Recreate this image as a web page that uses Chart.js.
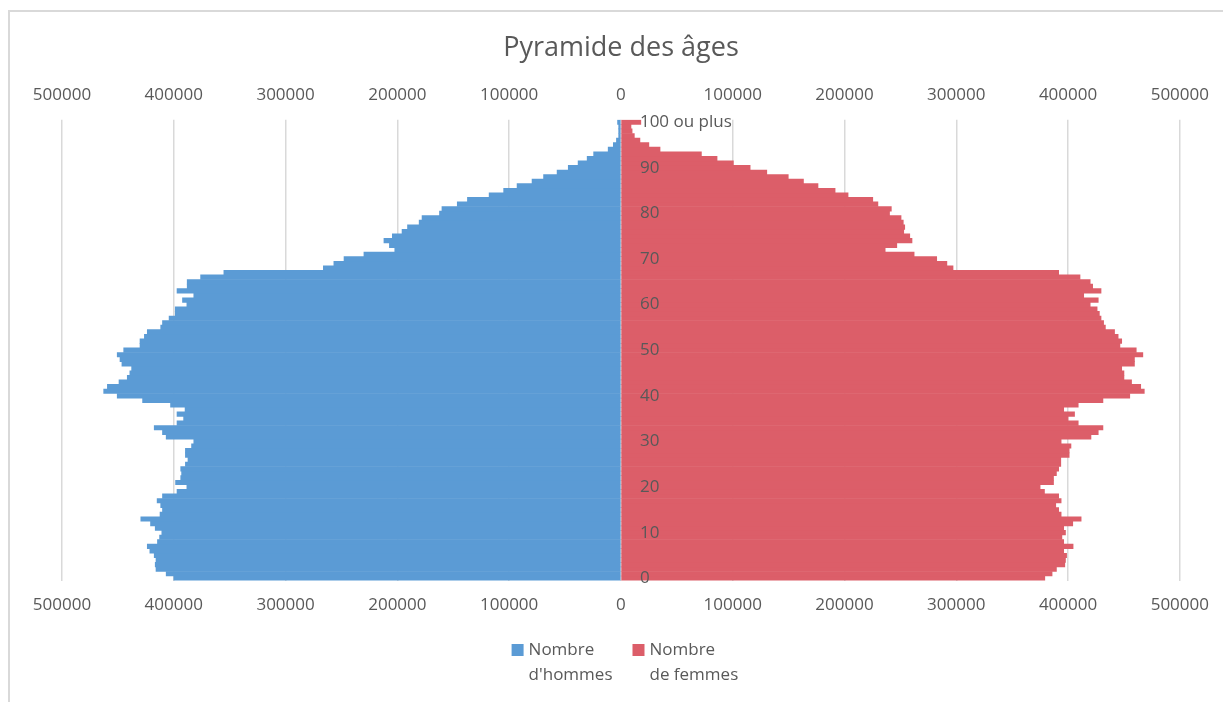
<!DOCTYPE html>
<html>
<head>
<meta charset="utf-8">
<script src="https://cdn.jsdelivr.net/npm/chart.js@4/dist/chart.umd.min.js"></script>
<style>
  html, body { margin: 0; padding: 0; background: #ffffff; }
  #wrap { position: relative; width: 1223px; height: 702px; overflow: hidden; }
  #frame { position: absolute; left: 8px; top: 10px; width: 1400px; height: 900px;
           border-left: 2px solid #d9d9d9; border-top: 2px solid #d9d9d9; }
  canvas { position: absolute; left: 0; top: 0; }
</style>
</head>
<body>
<div id="wrap">
  <div id="frame"></div>
  <canvas id="c" width="1223" height="702"></canvas>
</div>
<script>
// Age categories (bottom to top)
const ages = ["0","1","2","3","4","5","6","7","8","9",
  "10","11","12","13","14","15","16","17","18","19",
  "20","21","22","23","24","25","26","27","28","29",
  "30","31","32","33","34","35","36","37","38","39",
  "40","41","42","43","44","45","46","47","48","49",
  "50","51","52","53","54","55","56","57","58","59",
  "60","61","62","63","64","65","66","67","68","69",
  "70","71","72","73","74","75","76","77","78","79",
  "80","81","82","83","84","85","86","87","88","89",
  "90","91","92","93","94","95","96","97","98","99",
  "100 ou plus"];

// Nombre d'hommes (by age, 0 .. 100 ou plus)
const hommes = [400000, 406800, 415900, 416600, 415900, 417500, 421400, 423700, 414600, 412700,
  410700, 416600, 420800, 429500, 412300, 410100, 411700, 414900, 410100, 397100,
  388300, 398400, 393800, 393000, 393800, 389600, 387300, 389600, 389600, 384100,
  382100, 406800, 410100, 417500, 397100, 391200, 397100, 389900, 402900, 427900,
  450600, 462700, 459400, 449000, 441600, 439300, 437700, 446400, 448100, 450600,
  444800, 430200, 430200, 426300, 423700, 411700, 410100, 404200, 398700, 398700,
  388300, 392200, 382100, 397100, 388000, 388000, 376000, 355200, 266200, 256800,
  247700, 229900, 202300, 207100, 212000, 204500, 195800, 190900, 180500, 177900,
  162300, 160100, 146400, 137300, 117900, 104900, 92900, 79500, 69200, 57100,
  47100, 38300, 30200, 24400, 11400, 6800, 4000, 2000, 2000, 2000,
  3000];

// Nombre de femmes (by age, 0 .. 100 ou plus)
const femmes = [379200, 385700, 389600, 397100, 397700, 398700, 396100, 404500, 396100, 394500,
  397700, 396100, 404200, 411700, 393800, 391600, 389000, 393800, 391600, 378900,
  375000, 387000, 387000, 389600, 391600, 393500, 393500, 401000, 401000, 402600,
  393800, 420500, 427000, 431200, 409100, 400000, 405800, 396100, 409100, 431200,
  455200, 468200, 465000, 456800, 450000, 450000, 448000, 459400, 459400, 466900,
  461000, 446400, 448000, 444800, 441600, 433400, 431800, 429500, 428000, 426000,
  419800, 427000, 414000, 429500, 422000, 419800, 410700, 391600, 297100, 291600,
  282500, 262300, 236400, 246800, 260400, 258400, 253000, 253900, 252600, 250600,
  240300, 241900, 229900, 225300, 203200, 191600, 176300, 163300, 149700, 130500,
  115600, 100600, 86000, 72000, 35000, 25000, 17000, 12000, 10000, 9000,
  17800];

// Axis ticks (absolute values shown on both sides)
const xMin = -500000, xMax = 500000, xStep = 100000;
const shownAgeLabels = ["0","10","20","30","40","50","60","70","80","90","100 ou plus"];
const legendLines = [["Nombre", "d'hommes"], ["Nombre", "de femmes"]];

const FONT = '"Open Sans", "DejaVu Sans", sans-serif';
const TXT = '#595959';
const BLUE = '#5B9BD5';
const RED = '#DC5E69';

const ageLabelPlugin = {
  id: 'ageLabels',
  afterDatasetsDraw(chart) {
    const ys = chart.scales.y, xs = chart.scales.x, ctx = chart.ctx;
    ctx.save();
    ctx.font = '17px ' + FONT;
    ctx.fillStyle = TXT;
    ctx.textAlign = 'left';
    ctx.textBaseline = 'middle';
    ages.forEach((lab, i) => {
      if (shownAgeLabels.includes(lab)) {
        ctx.fillText(lab, xs.getPixelForValue(0) + 19, ys.getPixelForValue(i));
      }
    });
    ctx.restore();
  }
};

// Two-line legend under the bottom axis, colours taken from the datasets
const legendPlugin = {
  id: 'twoLineLegend',
  afterDraw(chart) {
    const ctx = chart.ctx, ca = chart.chartArea;
    ctx.save();
    ctx.font = '17px ' + FONT;
    const box = 12, gap = 5, spacing = 20, lineH = 25;
    const widths = legendLines.map(lines => box + gap + Math.max(...lines.map(t => ctx.measureText(t).width)));
    const total = widths.reduce((a, b) => a + b, 0) + spacing * (widths.length - 1);
    let x = (ca.left + ca.right) / 2 + 4 - total / 2;
    const y0 = 650;
    chart.data.datasets.forEach((ds, i) => {
      ctx.fillStyle = ds.backgroundColor;
      ctx.fillRect(x, y0 - box / 2, box, box);
      ctx.fillStyle = TXT;
      ctx.textAlign = 'left';
      ctx.textBaseline = 'middle';
      legendLines[i].forEach((t, k) => ctx.fillText(t, x + box + gap, y0 + k * lineH));
      x += widths[i] + spacing;
    });
    ctx.restore();
  }
};

const tickFont = { family: FONT, size: 17 };

new Chart(document.getElementById('c'), {
  type: 'bar',
  data: {
    labels: ages,
    datasets: [
      { label: "Nombre d'hommes", data: hommes.map(v => -v), backgroundColor: BLUE,
        barPercentage: 1, categoryPercentage: 1, borderWidth: 0 },
      { label: "Nombre de femmes", data: femmes, backgroundColor: RED,
        barPercentage: 1, categoryPercentage: 1, borderWidth: 0 }
    ]
  },
  options: {
    indexAxis: 'y',
    responsive: false,
    animation: false,
    layout: { padding: { left: 62, right: 43, top: 0, bottom: 73 } },
    plugins: {
      title: { display: true, text: 'Pyramide des âges', color: TXT,
               font: { family: FONT, size: 27, weight: 'normal' },
               padding: { top: 32, bottom: 7 } },
      legend: { display: false },
      tooltip: { enabled: false }
    },
    scales: {
      x: {
        position: 'bottom', min: xMin, max: xMax,
        ticks: { stepSize: xStep, color: TXT, font: tickFont, padding: 14,
                 callback: v => Math.abs(v) },
        grid: { color: '#D9D9D9', drawTicks: false, lineWidth: 1.5 },
        border: { display: false }
      },
      x2: {
        axis: 'x', position: 'top', min: xMin, max: xMax,
        ticks: { stepSize: xStep, color: TXT, font: tickFont, padding: 14,
                 callback: v => Math.abs(v) },
        grid: { display: false, drawTicks: false },
        border: { display: false }
      },
      y: { stacked: true, reverse: true, display: false }
    }
  },
  plugins: [ageLabelPlugin, legendPlugin]
});
</script>
</body>
</html>
